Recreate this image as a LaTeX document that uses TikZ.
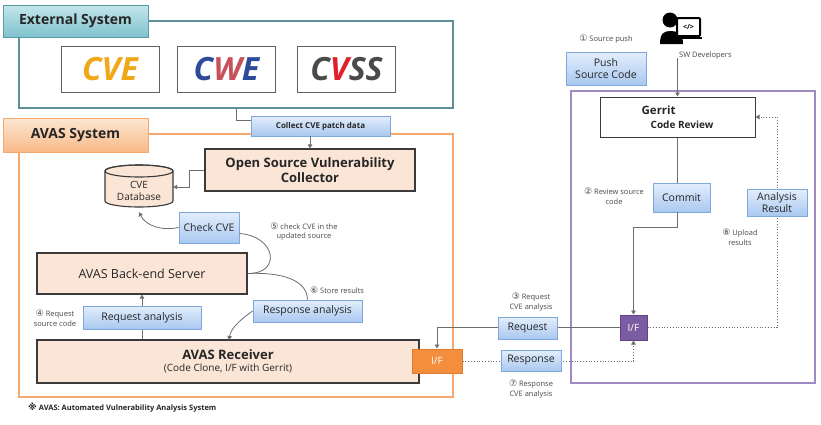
\documentclass[tikz,border=0pt]{standalone}
\usepackage{fontspec}
\setmainfont{Open Sans}
\newfontfamily\symfont{DejaVu Sans}
\usetikzlibrary{positioning}
\usetikzlibrary{arrows.meta}

\definecolor{linegray}{HTML}{6E6E6E}
\definecolor{notegray}{HTML}{4A4A4A}
\definecolor{boxline}{HTML}{3A3A3A}
\definecolor{peach}{HTML}{FBE5D6}
\definecolor{bluetop}{HTML}{E4EEFC}
\definecolor{bluebot}{HTML}{A9C8F0}
\definecolor{blueborder}{HTML}{7EA8DC}
\definecolor{tealtop}{HTML}{C4E6EB}
\definecolor{tealbot}{HTML}{7FC2CE}
\definecolor{tealborder}{HTML}{5A9AA6}
\definecolor{tealline}{HTML}{5E8E96}
\definecolor{orangetop}{HTML}{FDE7D4}
\definecolor{orangebot}{HTML}{F8B987}
\definecolor{orangeline}{HTML}{F5A96E}
\definecolor{iforange}{HTML}{F28E3E}
\definecolor{iforangeline}{HTML}{E07B2C}
\definecolor{ifpurple}{HTML}{7B5BA1}
\definecolor{ifpurpleline}{HTML}{5E4482}
\definecolor{purpleline}{HTML}{A08AC3}
\definecolor{cvegold}{HTML}{F0A818}
\definecolor{cweblue}{HTML}{2E4A9A}
\definecolor{cwered}{HTML}{C8505A}
\definecolor{cvssgray}{HTML}{4A4A4A}
\definecolor{cvssred}{HTML}{E0202A}

\newcommand{\cnum}[1]{{\symfont\fontsize{9}{9.5}\selectfont #1}}

\tikzset{
  wh/.style 2 args={minimum width=#1pt, minimum height=#2pt},
  conn/.style={draw=linegray, line width=0.8pt},
  arr/.style={conn, -{Triangle[width=4.5pt,length=4pt]}},
  dotarr/.style={arr, dotted},
  bluebox/.style={draw=blueborder, line width=0.9pt, top color=bluetop, bottom color=bluebot,
    inner sep=0pt, align=center, text=black!85, font=\fontsize{10.5}{12.5}\selectfont},
  peachbox/.style={draw=boxline, line width=1.1pt, fill=peach, inner sep=0pt, align=center, text=black!85},
  note/.style={text=notegray, font=\fontsize{7.5}{9.5}\selectfont, align=center, inner sep=0pt},
  logobox/.style={draw=boxline!80, line width=0.8pt, fill=white, wh={98}{46}, inner sep=0pt,
    font=\fontsize{32}{32}\selectfont\bfseries\itshape},
  headbox/.style={line width=1pt, inner sep=0pt, text=black!85, font=\bfseries\fontsize{14}{14}\selectfont},
}

\begin{document}
\begin{tikzpicture}[x=1pt,y=-1pt]
  \useasboundingbox (0,0) rectangle (821,424);
  \fill[white] (0,0) rectangle (821,424);

  % external system
  \node[draw=tealline, line width=1.1pt, wh={434}{87}] (extbox) at (236,64.5) {};
  \node[headbox, draw=tealborder, top color=tealtop, bottom color=tealbot, wh={145}{32}] (extlabel) at (75.5,21) {External System};
  \node[logobox] (cvelogo) at (110,69) {\color{cvegold}CVE};
  \node[logobox] (cwelogo) at (226.5,69) {\color{cweblue}C\color{cwered}W\color{cweblue}E};
  \node[logobox] (cvsslogo) at (346.5,69) {\color{cvssgray}C\color{cvssred}V\color{cvssgray}SS};

  % avas system
  \node[draw=orangeline, line width=1.2pt, wh={434}{263}] (avasbox) at (236,265.5) {};
  \node[headbox, draw=orangeline, top color=orangetop, bottom color=orangebot, wh={145}{34}] (avaslabel) at (75.5,135) {AVAS System};

  \node[bluebox, wh={139}{20}, font=\bfseries\fontsize{8}{9}\selectfont] (collect) at (320.5,126) {Collect CVE patch data};
  \draw[conn] (extbox.south) |- ([yshift=6pt]collect.west);

  \node[peachbox, wh={210}{42}, font=\bfseries\fontsize{13}{15}\selectfont] (collector) at (310,170) {Open Source Vulnerability\\Collector};
  \draw[arr] (collect.south -| collector.north) -- (collector.north);

  % cve database
  \draw[line width=1.1pt, draw=boxline, fill=peach] (105,171) -- (105,201)
    arc[start angle=180, end angle=360, x radius=34pt, y radius=6pt] -- (173,171)
    arc[start angle=0, end angle=180, x radius=34pt, y radius=6pt] -- cycle;
  \draw[line width=1.1pt, draw=boxline] (139,171) ellipse[x radius=34pt, y radius=6pt];
  \node[wh={68}{42}, inner sep=0pt, align=center, text=black!85, font=\fontsize{10}{12.5}\selectfont] (db) at (139,191) {CVE\\Database};
  \draw[arr] (collector.west) -- ++(-15,0) |- ([yshift=4pt]db.east);

  \node[peachbox, wh={210}{41}, font=\fontsize{12.5}{14}\selectfont] (backend) at (142,273.5) {AVAS Back-end Server};
  \node[bluebox, wh={60}{31}] (checkcve) at (209,227.5) {Check CVE};
  \draw[arr] (checkcve.west) .. controls (162,231) and (146,226) .. (db.south);
  \draw[conn] (backend.east) .. controls (282,274) and (276,236) .. ([yshift=-6pt]checkcve.east);
  \node[note] (n5) at (304,231.5) {\cnum{⑤} check CVE in the\\updated source};

  \node[peachbox, wh={382}{43}] (receiver) at (228,361.5) {{\bfseries\fontsize{13}{15}\selectfont AVAS Receiver}\\{\fontsize{10}{12}\selectfont (Code Clone, I/F with Gerrit)}};
  \draw[arr] (receiver.north -| backend.south) -- (backend.south);
  \node[bluebox, wh={118}{23}] (reqana) at (142,317.5) {Request analysis};
  \node[note] (n4) at (55,318) {\cnum{④} Request\\source code};

  \node[bluebox, wh={109}{22}] (resana) at (307.5,311) {Response analysis};
  \draw[conn] (backend.east) .. controls (282,272) and (307,280) .. (resana.north);
  \draw[arr] (resana.west) .. controls (240,320) and (231,328) .. (229,340);
  \node[note, anchor=west] (n6) at (310,290) {\cnum{⑥} Store results};

  \node[draw=iforangeline, fill=iforange, line width=1pt, wh={50}{24}, inner sep=0pt, text=white, font=\fontsize{10}{12}\selectfont] (ifo) at (437,361) {I/F};

  % gerrit side
  \node[draw=purpleline, line width=1.2pt, wh={244}{292}] (gerritbox) at (693,237) {};
  \node[draw=boxline, line width=1pt, fill=white, wh={155}{40}, inner sep=0pt, align=left, text=black!85, font=\bfseries\fontsize{10}{14}\selectfont] (gerrit) at (677.5,117) {{\fontsize{11.5}{14}\selectfont Gerrit}\\\hspace*{9pt}Code Review};

  % developer icon
  \fill[black] (670,20) circle (7.5pt);
  \fill[black] (660,44) .. controls (660,33) and (664,31) .. (671,31) .. controls (678,31) and (683,34) .. (683,44) -- cycle;
  \draw[line width=2pt, fill=white, rounded corners=1pt] (677,18) rectangle (700,36);
  \draw[line width=2.5pt] (673,38) -- (702,38);
  \node[inner sep=0pt, font=\bfseries\fontsize{7}{7}\selectfont] (devcode) at (688.5,27) {</>};
  \coordinate (dev) at (677.5,58);
  \node[note, anchor=west] (devlabel) at (679,56) {SW Developers};
  \draw[arr] (dev) -- (gerrit.north);

  \node[note] (n1) at (606,39) {\cnum{①} Source push};
  \node[bluebox, wh={80}{33}] (push) at (606,68.5) {Push\\Source Code};

  \node[bluebox, wh={57}{29}] (commit) at (681.5,197.5) {Commit};
  \draw[conn] (gerrit.south) -- (gerrit.south |- commit.north);
  \node[note] (n2) at (614,196) {\cnum{②} Review source\\code};

  \node[draw=ifpurpleline, fill=ifpurple, line width=1pt, wh={27}{25}, inner sep=0pt, text=white, font=\fontsize{10}{12}\selectfont] (ifp) at (633.5,327.5) {I/F};
  \draw[arr] (gerrit.south |- commit.south) -- ++(0,15) -| (ifp.north);

  % request / response
  \draw[arr] (ifp.west) -| (ifo.north);
  \draw[dotarr] (ifo.east) -| (ifp.south);
  \node[bluebox, wh={59}{22}] (request) at (527.5,328) {Request};
  \node[bluebox, wh={60}{21}] (response) at (531,360.5) {Response};
  \node[note] (n3) at (531,302) {\cnum{③} Request\\CVE analysis};
  \node[note] (n7) at (531,389) {\cnum{⑦} Response\\CVE analysis};

  % upload results
  \draw[dotarr] (ifp.east) -- (ifp.east -| 777,0) |- (gerrit.east);
  \node[bluebox, wh={60}{27}] (result) at (777,202.5) {Analysis\\Result};
  \node[note] (n8) at (740,237) {\cnum{⑧} Upload\\results};

  \node[anchor=west, inner sep=0pt, text=black!85, font=\bfseries\fontsize{7.5}{9}\selectfont] (footnote) at (28,408) {\cnum{※} AVAS: Automated Vulnerability Analysis System};
\end{tikzpicture}
\end{document}
